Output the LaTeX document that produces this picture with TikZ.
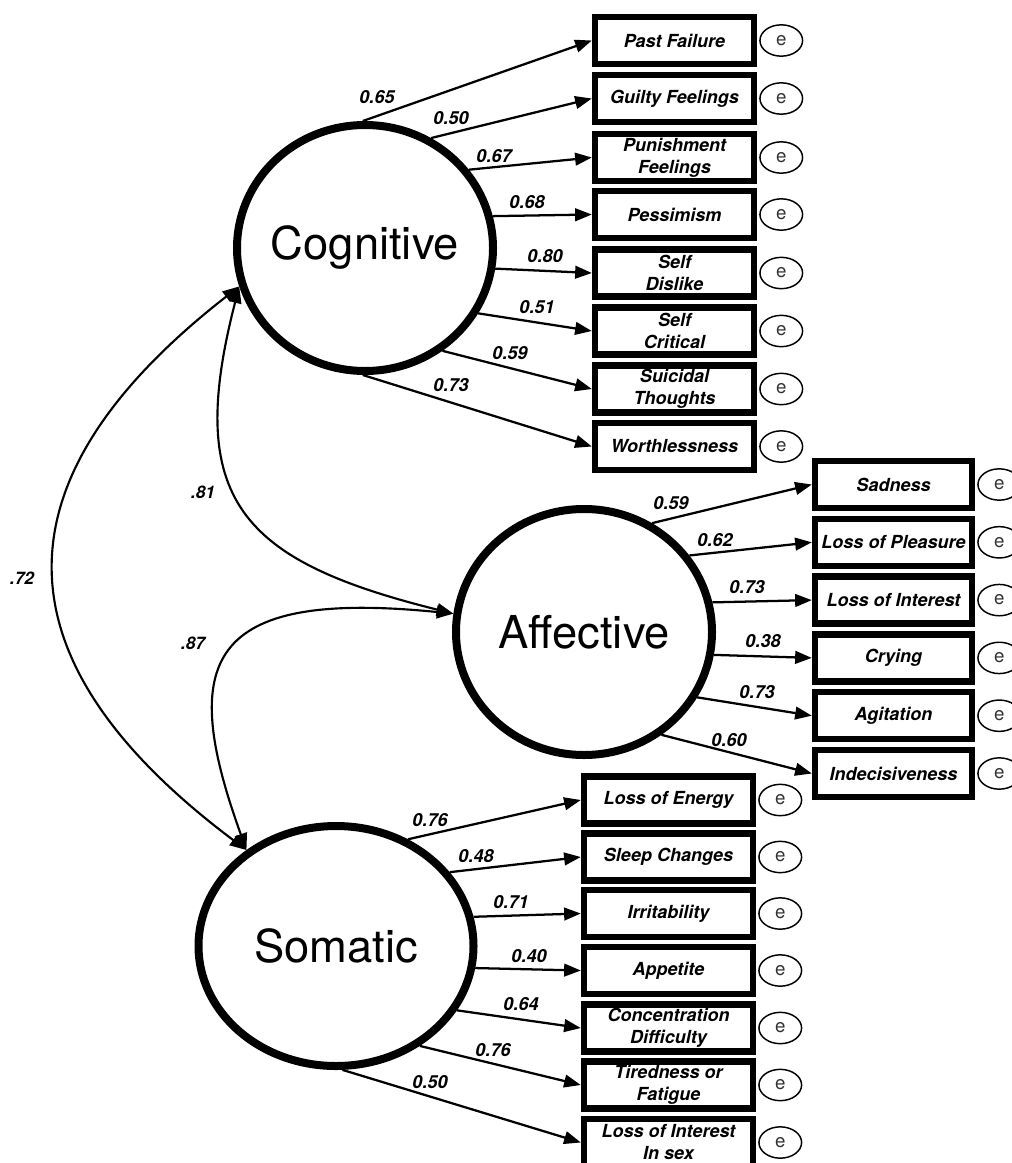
\documentclass[tikz,border=0pt]{standalone}
\usepackage{fontspec}
\setmainfont{TeX Gyre Heros}
\usetikzlibrary{arrows.meta}
\usetikzlibrary{shapes.geometric}
\usetikzlibrary{positioning}

\newcommand{\latentfont}{\fontsize{34pt}{40pt}\selectfont}
\newcommand{\itemfont}{\fontsize{13.5pt}{16.5pt}\selectfont\bfseries\itshape}
\newcommand{\coeffont}{\fontsize{13.5pt}{15pt}\selectfont\bfseries\itshape}
\newcommand{\covfont}{\fontsize{13pt}{15pt}\selectfont\bfseries\itshape}
\newcommand{\errfont}{\fontsize{14pt}{16pt}\selectfont}

\tikzset{
  latent/.style={draw, ellipse, line width=6pt, minimum width=192pt, minimum height=184.5pt, inner sep=0pt, font=\latentfont},
  indicator/.style={draw, rectangle, line width=4.8pt, minimum width=119.25pt, minimum height=35.25pt, inner sep=1pt, align=center, font=\itemfont},
  errterm/.style={draw, ellipse, line width=1.1pt, minimum width=32pt, minimum height=23.5pt, inner sep=0pt, font=\errfont, text=black!80},
  load/.style={line width=1.7pt, -{Triangle[length=12.5pt,width=9.5pt]}},
  covar/.style={line width=1.6pt, {Triangle[length=12.5pt,width=9.5pt]}-{Triangle[length=12.5pt,width=9.5pt]}},
  coef/.style={font=\coeffont, inner sep=0pt},
  covlab/.style={font=\covfont, inner sep=0pt},
}

\begin{document}
\begin{tikzpicture}[x=0.75pt,y=0.75pt,yscale=-1,xscale=1]
\useasboundingbox (0,0) rectangle (1011,1163);

% Latent factors
\node[latent] (cog) at (365,248) {\makebox[0pt]{Cognitive}};
\node[latent] (aff) at (584,632) {\makebox[0pt]{Affective}};
\node[latent, minimum width=206.25pt, minimum height=180pt] (som) at (336,946) {\makebox[0pt]{Somatic}};

% Cognitive items
\node[indicator] (pastfail) at (674.5,40.5) {Past Failure};
\node[indicator] (guilty) at (674.5,98.5) {Guilty Feelings};
\node[indicator] (punish) at (674.5,157.5) {Punishment\\Feelings};
\node[indicator] (pessim) at (674.5,214.5) {Pessimism};
\node[indicator] (dislike) at (674.5,273) {Self\\Dislike};
\node[indicator] (critical) at (674.5,331) {Self\\Critical};
\node[indicator] (suicidal) at (674.5,389) {Suicidal\\Thoughts};
\node[indicator] (worthless) at (674.5,446.5) {Worthlessness};

% Affective items
\node[indicator, minimum width=117.75pt] (sadness) at (893.5,484.5) {Sadness};
\node[indicator, minimum width=117.75pt] (pleasure) at (893.5,542.3) {Loss of Pleasure};
\node[indicator, minimum width=117.75pt] (interest) at (893.5,600.1) {Loss of Interest};
\node[indicator, minimum width=117.75pt] (crying) at (893.5,657.9) {Crying};
\node[indicator, minimum width=117.75pt] (agitation) at (893.5,715.7) {Agitation};
\node[indicator, minimum width=117.75pt] (indecis) at (893.5,773.5) {Indecisiveness};

% Somatic items
\node[indicator, minimum width=126.75pt] (energy) at (668.5,800) {Loss of Energy};
\node[indicator, minimum width=126.75pt] (sleep) at (668.5,857) {Sleep Changes};
\node[indicator, minimum width=126.75pt] (irrit) at (668.5,913.5) {Irritability};
\node[indicator, minimum width=126.75pt] (appetite) at (668.5,970.5) {Appetite};
\node[indicator, minimum width=126.75pt] (concent) at (668.5,1028) {Concentration\\Difficulty};
\node[indicator, minimum width=126.75pt] (tired) at (668.5,1085) {Tiredness or\\Fatigue};
\node[indicator, minimum width=126.75pt] (sexint) at (668.5,1142.5) {Loss of Interest\\In sex};

% Error terms
\node[errterm, right=1.5pt of pastfail] (epastfail) {e};
\node[errterm, right=1.5pt of guilty] (eguilty) {e};
\node[errterm, right=1.5pt of punish] (epunish) {e};
\node[errterm, right=1.5pt of pessim] (epessim) {e};
\node[errterm, right=1.5pt of dislike] (edislike) {e};
\node[errterm, right=1.5pt of critical] (ecritical) {e};
\node[errterm, right=1.5pt of suicidal] (esuicidal) {e};
\node[errterm, right=1.5pt of worthless] (eworthless) {e};
\node[errterm, right=1.5pt of sadness] (esadness) {e};
\node[errterm, right=1.5pt of pleasure] (epleasure) {e};
\node[errterm, right=1.5pt of interest] (einterest) {e};
\node[errterm, right=1.5pt of crying] (ecrying) {e};
\node[errterm, right=1.5pt of agitation] (eagitation) {e};
\node[errterm, right=1.5pt of indecis] (eindecis) {e};
\node[errterm, right=1.5pt of energy] (eenergy) {e};
\node[errterm, right=1.5pt of sleep] (esleep) {e};
\node[errterm, right=1.5pt of irrit] (eirrit) {e};
\node[errterm, right=1.5pt of appetite] (eappetite) {e};
\node[errterm, right=1.5pt of concent] (econcent) {e};
\node[errterm, right=1.5pt of tired] (etired) {e};
\node[errterm, right=1.5pt of sexint] (esexint) {e};

%Straight Lines (loadings)
\draw[load] (cog.91) -- (pastfail.west);
\draw[load] (cog.59) -- (guilty.west);
\draw[load] (cog.37) -- (punish.west);
\draw[load] (cog.14) -- (pessim.west);
\draw[load] (cog.-9) -- (dislike.west);
\draw[load] (cog.-30) -- (critical.west);
\draw[load] (cog.-53) -- (suicidal.west);
\draw[load] (cog.-91) -- (worthless.west);

\draw[load] (aff.58) -- (sadness.west);
\draw[load] (aff.36) -- (pleasure.west);
\draw[load] (aff.13) -- (interest.west);
\draw[load] (aff.-10) -- (crying.west);
\draw[load] (aff.-30) -- (agitation.west);
\draw[load] (aff.-53) -- (indecis.west);

\draw[load] (som.56) -- (energy.west);
\draw[load] (som.33) -- (sleep.west);
\draw[load] (som.12) -- (irrit.west);
\draw[load] (som.-9) -- (appetite.west);
\draw[load] (som.-28) -- (concent.west);
\draw[load] (som.-50) -- (tired.west);
\draw[load] (som.-87) -- (sexint.west);

%Curve Lines (covariances)
\draw[covar] (cog.197) .. controls +(-268,209) and +(-232,-174) .. (som.133);
\draw[covar] (cog.197) .. controls +(-55,213) and +(-213,-53) .. (aff.172);
\draw[covar] (aff.172) .. controls +(-249,-25) and +(-68,-188) .. (som.133);

% Text Node
\node[covlab] (c72) at (22,578) {.72};
\node[covlab] (c81) at (203,492) {.81};
\node[covlab] (c87) at (193,643) {.87};

% Text Node
\node[coef] (w1) at (377,97) {0.65};
\node[coef] (w2) at (451,118) {0.50};
\node[coef] (w3) at (494,156) {0.67};
\node[coef] (w4) at (527,202) {0.68};
\node[coef] (w5) at (545,256) {0.80};
\node[coef] (w6) at (537,307) {0.51};
\node[coef] (w7) at (510,353) {0.59};
\node[coef] (w8) at (451,385) {0.73};

\node[coef] (w9) at (671,503) {0.59};
\node[coef] (w10) at (715,540) {0.62};
\node[coef] (w11) at (747,587) {0.73};
\node[coef] (w12) at (763,641) {0.38};
\node[coef] (w13) at (757,692) {0.73};
\node[coef] (w14) at (729,740) {0.60};

\node[coef] (w15) at (430,820) {0.76};
\node[coef] (w16) at (476,856) {0.48};
\node[coef] (w17) at (511,902) {0.71};
\node[coef] (w18) at (529,956) {0.40};
\node[coef] (w19) at (521,1004) {0.64};
\node[coef] (w20) at (493,1050) {0.76};
\node[coef] (w21) at (430,1082) {0.50};

\end{tikzpicture}
\end{document}
